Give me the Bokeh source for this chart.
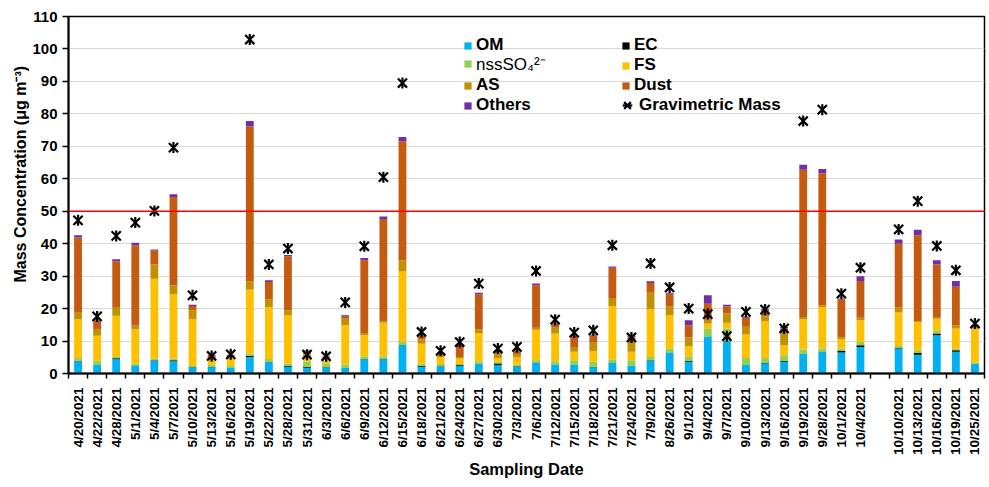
import math
from bokeh.plotting import figure
from bokeh.models import (ColumnDataSource, Range1d, FixedTicker, Span, Legend, LegendItem, Title)
from bokeh.embed import file_html
from bokeh.resources import INLINE

dates = ["4/20/2021", "4/22/2021", "4/28/2021", "5/1/2021", "5/4/2021", "5/7/2021", "5/10/2021",
         "5/13/2021", "5/16/2021", "5/19/2021", "5/22/2021", "5/28/2021", "5/31/2021", "6/3/2021",
         "6/6/2021", "6/9/2021", "6/12/2021", "6/15/2021", "6/18/2021", "6/21/2021", "6/24/2021",
         "6/27/2021", "6/30/2021", "7/3/2021", "7/6/2021", "7/12/2021", "7/15/2021", "7/18/2021",
         "7/21/2021", "7/24/2021", "7/9/2021", "8/26/2021", "9/1/2021", "9/4/2021", "9/7/2021",
         "9/10/2021", "9/13/2021", "9/16/2021", "9/19/2021", "9/28/2021", "10/1/2021", "10/4/2021",
         "", "10/10/2021", "10/13/2021", "10/16/2021", "10/19/2021", "10/25/2021"]

OM = [3.8, 2.6, 4.4, 2.4, 3.9, 3.8, 1.9, 1.9, 1.7, 5.1, 3.5, 2.1, 1.8, 1.8,
      1.7, 4.4, 4.4, 8.7, 2.1, 2.1, 2.4, 2.9, 2.6, 2.1, 3.3, 2.6, 2.6, 1.9,
      3.3, 2.3, 3.9, 6.4, 3.6, 11.3, 10.1, 2.6, 3.1, 3.6, 6.0, 6.7, 6.5, 8.2,
      0, 7.7, 5.8, 11.8, 6.7, 2.9]
EC = [0.1, 0.1, 0.3, 0.1, 0.2, 0.3, 0.1, 0.1, 0.1, 0.4, 0.1, 0.2, 0.2, 0.1,
      0.1, 0.1, 0.1, 0.1, 0.3, 0.1, 0.2, 0.1, 0.5, 0.1, 0.1, 0.1, 0.1, 0.1,
      0.1, 0.1, 0.2, 0.1, 0.3, 0.1, 0.1, 0.1, 0.1, 0.3, 0.1, 0.1, 0.4, 0.5,
      0, 0.2, 0.6, 0.5, 0.5, 0.1]
nssSO4 = [0.9, 1.2, 0.6, 0.6, 0.5, 0.5, 0.3, 0.8, 0.5, 0.7, 0.9, 0.8, 1.6, 1.2,
          1.0, 0.8, 0.8, 1.1, 0.7, 0.7, 0.3, 0.8, 0.5, 0.6, 0.7, 1.1, 1.4, 1.6,
          1.0, 1.7, 1.0, 1.2, 1.4, 2.5, 3.7, 2.1, 1.6, 1.7, 1.3, 0.9, 0.8, 1.0,
          0, 0.6, 0.8, 1.0, 0.5, 0.4]
FS = [11.9, 7.7, 12.5, 10.5, 24.6, 19.8, 14.4, 1.3, 2.8, 19.7, 16.0, 14.9, 1.5, 1.5,
      12.1, 6.5, 10.3, 21.7, 6.1, 2.2, 1.7, 8.7, 1.2, 2.3, 9.4, 8.5, 2.6, 3.3,
      16.4, 2.6, 14.7, 10.3, 3.1, 1.5, 1.7, 7.2, 11.4, 3.1, 9.3, 12.8, 2.9, 6.7,
      0, 10.3, 8.7, 3.6, 6.2, 10.5]
AS = [2.0, 1.9, 2.7, 1.2, 4.4, 2.8, 2.8, 0.6, 0.3, 2.5, 2.4, 1.5, 0.8, 0.4,
      2.0, 0.7, 0.5, 3.3, 1.3, 0.5, 0.5, 1.1, 1.4, 0.7, 0.6, 1.8, 1.5, 2.6,
      2.5, 3.0, 5.1, 2.7, 2.7, 1.5, 2.9, 2.4, 1.4, 3.6, 0.7, 0.5, 0.5, 0.8,
      0, 1.5, 0.2, 0.3, 1.0, 0.5]
Dust = [23.2, 2.9, 14.1, 24.7, 4.4, 27.2, 1.3, 0.8, 0.3, 47.7, 5.3, 16.6, 0.9, 0.3,
        0.9, 22.4, 31.3, 36.7, 1.3, 0.6, 3.1, 10.8, 0.5, 1.4, 13.1, 1.3, 3.1, 2.3,
        9.3, 1.6, 3.0, 3.9, 3.8, 4.6, 2.2, 2.8, 1.9, 1.6, 45.4, 40.6, 11.7, 11.3,
        0, 19.7, 26.5, 16.4, 11.8, 0.5]
Others = [0.7, 0.3, 0.6, 0.8, 0.2, 0.8, 0.4, 0.2, 0.1, 1.7, 0.5, 0.4, 0.3, 0.1,
          0.2, 0.7, 1.0, 1.3, 0.5, 0.2, 0.5, 0.5, 0.5, 0.2, 0.5, 0.2, 0.4, 0.2,
          0.4, 0.4, 0.5, 0.3, 1.5, 2.6, 0.5, 0.4, 0.4, 0.4, 1.5, 1.4, 0.3, 1.5,
          0, 1.3, 1.7, 1.3, 1.8, 0.1]
gravimetric = [47.2, 17.6, 42.4, 46.5, 50.1, 69.6, 24.1, 5.4, 5.9, 102.9, 33.6, 38.5, 5.8, 5.3,
               21.9, 39.2, 60.5, 89.5, 12.8, 7.0, 9.7, 27.7, 7.7, 8.2, 31.6, 16.6, 12.6, 13.3,
               39.5, 11.1, 33.9, 26.5, 20.0, 18.3, 11.5, 19.0, 19.7, 13.9, 77.8, 81.3, 24.6, 32.6,
               float("nan"), 44.4, 53.1, 39.3, 31.8, 15.4]
limit = 50

names = ["OM", "EC", "nssSO4", "FS", "AS", "Dust", "Others"]
colors = ["#00B0F0", "#000000", "#92D050", "#FFC000", "#BF9000", "#C55A11", "#7030A0"]

n = len(dates)
xs = list(range(n))
src = ColumnDataSource(dict(x=xs, OM=OM, EC=EC, nssSO4=nssSO4, FS=FS, AS=AS, Dust=Dust,
                            Others=Others, grav=gravimetric))

FONT = "Liberation Sans"
FW, FH = 916, 357

p = figure(width=989, height=487, output_backend="svg", toolbar_location=None,
           x_range=Range1d(-0.5, n - 0.5), y_range=Range1d(0, 110),
           frame_width=FW, frame_height=FH,
           min_border_left=68, min_border_right=5, min_border_top=16, min_border_bottom=114)
p.background_fill_color = "white"
p.border_fill_color = "white"
p.outline_line_color = "black"
p.outline_line_width = 1.5

bars = p.vbar_stack(names, x="x", width=0.41, color=colors, source=src, line_color=None)

r_x = p.scatter("x", "grav", source=src, marker="x", size=13, line_width=2.2, line_color="black")
r_d = p.scatter("x", "grav", source=src, marker="dash", angle=math.pi / 2, size=11,
                line_width=2.2, line_color="black")

p.add_layout(Span(location=limit, dimension="width", line_color="#FF0000", line_width=1.5))

# axes
p.xgrid.grid_line_color = None
p.ygrid.grid_line_color = "#D9D9D9"
p.ygrid.grid_line_width = 1.2
p.yaxis.ticker = FixedTicker(ticks=list(range(0, 111, 10)))
p.yaxis.axis_line_width = 2
p.yaxis.major_tick_line_width = 1.5
p.yaxis.major_tick_out = 6
p.yaxis.major_tick_in = 0
p.yaxis.minor_tick_line_color = None
p.yaxis.major_label_text_font = FONT
p.yaxis.major_label_text_font_style = "bold"
p.yaxis.major_label_text_font_size = "15px"
p.yaxis.major_label_text_color = "black"
p.yaxis.major_label_standoff = 5

p.xaxis.ticker = FixedTicker(ticks=xs, minor_ticks=[i - 0.5 for i in range(n + 1)])
p.xaxis.major_label_overrides = {i: d for i, d in enumerate(dates)}
p.xaxis.major_label_orientation = math.pi / 2
p.xaxis.major_label_text_font = FONT
p.xaxis.major_label_text_font_style = "bold"
p.xaxis.major_label_text_font_size = "13.5px"
p.xaxis.major_label_text_color = "black"
p.xaxis.major_label_standoff = 8
p.xaxis.major_tick_line_color = None
p.xaxis.minor_tick_line_color = "black"
p.xaxis.minor_tick_line_width = 1.5
p.xaxis.minor_tick_out = 5
p.xaxis.minor_tick_in = 0
p.xaxis.axis_line_width = 2
p.xaxis.axis_label = "Sampling Date"
p.xaxis.axis_label_text_font = FONT
p.xaxis.axis_label_text_font_style = "bold"
p.xaxis.axis_label_text_font_size = "16.5px"
p.xaxis.axis_label_text_color = "black"
p.xaxis.axis_label_standoff = 2

ytitle = Title(text="Mass Concentration (μg m⁻³)", align="left", offset=91,
               text_font=FONT, text_font_style="bold", text_font_size="16px",
               text_color="black", standoff=2)
p.add_layout(ytitle, "left")


def make_legend(items, x, y, style="bold", gw=9, gh=9, standoff=4, lh=20):
    lg = Legend(items=items, location=(x, y), orientation="vertical",
                label_text_font=FONT, label_text_font_style=style, label_text_font_size="17px",
                label_text_color="black", glyph_width=gw, glyph_height=gh, label_standoff=standoff,
                label_height=lh, spacing=0, padding=0, margin=0,
                border_line_color=None, background_fill_alpha=0)
    p.add_layout(lg)
    return lg


# location = bottom-left corner of each legend block, relative to the frame
make_legend([LegendItem(label="OM", renderers=[bars[0]])], 395, 318)
make_legend([LegendItem(label="nssSO₄²⁻", renderers=[bars[2]])], 395, 298, style="normal")
make_legend([LegendItem(label="AS", renderers=[bars[4]]),
             LegendItem(label="Others", renderers=[bars[6]])], 395, 258)
make_legend([LegendItem(label="EC", renderers=[bars[1]]),
             LegendItem(label="FS", renderers=[bars[3]]),
             LegendItem(label="Dust", renderers=[bars[5]])], 553, 278)
make_legend([LegendItem(label="Gravimetric Mass", renderers=[r_x, r_d])], 547, 256,
            gw=24, gh=24, standoff=0, lh=24)

open("out.html", "w").write(file_html(p, INLINE))
